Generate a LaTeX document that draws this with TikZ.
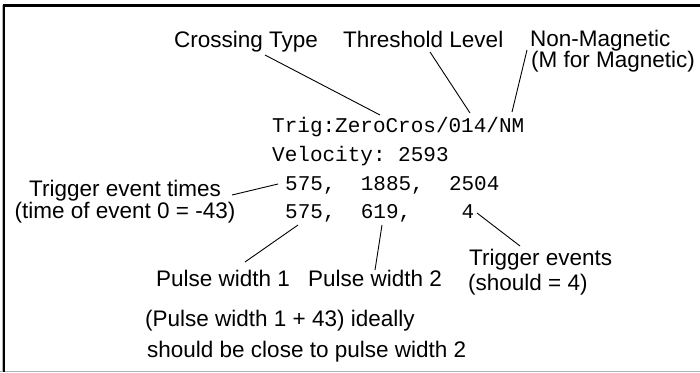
\documentclass[tikz,border=0pt]{standalone}
\usepackage{fontspec}
\setmainfont{Liberation Sans}
\setmonofont{Liberation Mono}
\begin{document}
\begin{tikzpicture}[x=1pt,y=-1pt,
  lbl/.style={inner sep=0pt,anchor=base west,font=\fontsize{22.5}{20}\selectfont},
  mono/.style={inner sep=0pt,anchor=base west,font=\ttfamily\fontsize{21}{20}\selectfont},
  conn/.style={draw=black,line width=0.9pt}]
\useasboundingbox (0,0) rectangle (700,372);
\fill[white] (0,0) rectangle (700,372);
% frame
\draw[line width=1pt,gray!60] (0,371) -- (700,371);
\draw[line width=1pt,gray!60] (2,5) -- (2,372);
\draw[line width=2.4pt,black] (4.2,372) -- (4.2,5.5) -- (700,5.5);
% labels top
\node[lbl] (ct) at (174,47) {Crossing Type};
\node[lbl] (tl) at (343,47) {Threshold Level};
\node[lbl] (nm) at (530,46) {Non-Magnetic};
\node[lbl] (nm2) at (531,67) {(M for Magnetic)};
% mono lines
\node[mono] (trig) at (272,132) {Trig:ZeroCros/014/NM};
\node[mono] (vel) at (272,161) {Velocity: 2593};
\node[mono] (r3) at (285,190) {575,\ \ 1885,\ \ 2504};
\node[mono] (r4) at (285,218) {575,\ \ 619,\ \ \ \ 4};
% left label
\node[lbl,anchor=base] (tet) at (125,196) {Trigger event times};
\node[lbl,anchor=base] (tet2) at (125,218) {(time of event 0 = -43)};
% bottom labels
\node[lbl] (pw1) at (156,286) {Pulse width 1};
\node[lbl] (pw2) at (308,286) {Pulse width 2};
\node[lbl] (te) at (469,265) {Trigger events};
\node[lbl] (te2) at (468,290) {(should = 4)};
\node[lbl] (note1) at (145,326) {(Pulse width 1 + 43) ideally};
\node[lbl] (note2) at (147,357) {should be close to pulse width 2};
% connector end points
\coordinate (a1) at (265,55);  \coordinate (a2) at (380,115);
\coordinate (b1) at (430,52);  \coordinate (b2) at (470,113);
\coordinate (c1) at (527,50);  \coordinate (c2) at (512,112);
\coordinate (d1) at (232,195); \coordinate (d2) at (278,184);
\coordinate (e1) at (298,225); \coordinate (e2) at (245,262);
\coordinate (f1) at (382,225); \coordinate (f2) at (375,270);
\coordinate (g1) at (477,213); \coordinate (g2) at (520,246);
\draw[conn] (a1) -- (a2);
\draw[conn] (b1) -- (b2);
\draw[conn] (c1) -- (c2);
\draw[conn] (d1) -- (d2);
\draw[conn] (e1) -- (e2);
\draw[conn] (f1) -- (f2);
\draw[conn] (g1) -- (g2);
\end{tikzpicture}
\end{document}
